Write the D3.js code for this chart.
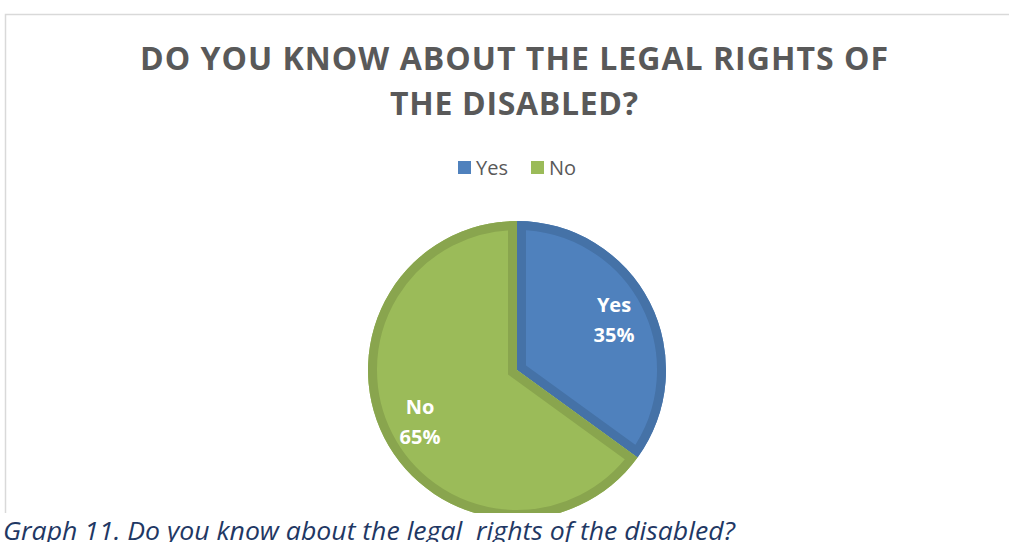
<!DOCTYPE html>
<html>
<head>
<meta charset="utf-8">
<script src="https://cdn.jsdelivr.net/npm/d3@7"></script>
<style>
  html, body { margin: 0; padding: 0; background: #fff; }
  svg { display: block; }
</style>
</head>
<body>
<svg id="chart" width="1009" height="542"></svg>
<script>
// Survey answers
const categories = ["Yes", "No"];
const shares = [35, 65];
const fills = ["#4F81BD", "#9BBB59"];
const edges = ["#4572A7", "#89A54E"];
const titleLines = ["DO YOU KNOW ABOUT THE LEGAL RIGHTS OF", "THE DISABLED?"];
const caption = "Graph 11. Do you know about the legal  rights of the disabled?";

const svg = d3.select("#chart");
const W = 1009, H = 542;
const plotBottom = 513;

// chart frame: top and left edges (right edge lies past the page)
svg.append("path")
  .attr("d", `M5.5,${plotBottom}V14.5H${W}`)
  .attr("fill", "none").attr("stroke", "#d9d9d9").attr("stroke-width", 1.5);

const defs = svg.append("defs");
defs.append("clipPath").attr("id", "frameClip")
  .append("rect").attr("x", 0).attr("y", 0).attr("width", W).attr("height", plotBottom);

// title
const titleWidths = [748, 248];
svg.append("g").selectAll("text").data(titleLines).join("text")
  .attr("x", 514).attr("y", (d, i) => 70 + i * 45)
  .attr("text-anchor", "middle")
  .attr("font-family", "'Open Sans', sans-serif")
  .attr("font-weight", 700).attr("font-size", 32)
  .attr("fill", "#595959")
  .attr("textLength", (d, i) => titleWidths[i])
  .attr("lengthAdjust", "spacing")
  .text(d => d);

// legend
const legend = svg.append("g").attr("font-family", "'Open Sans', sans-serif")
  .attr("font-size", 20).attr("fill", "#595959");
const legendX = [458, 531];
categories.forEach((c, i) => {
  legend.append("rect").attr("x", legendX[i]).attr("y", 161)
    .attr("width", 13).attr("height", 13).attr("fill", fills[i]);
  legend.append("text").attr("x", legendX[i] + 18).attr("y", 175).text(c);
});

// pie
const cx = 517, cy = 370, R = 149, band = 9;
const pie = d3.pie().sort(null).value(d => d.v);
const arcs = pie(categories.map((c, i) => ({ c, v: shares[i], i })));
const arc = d3.arc().innerRadius(0).outerRadius(R);

const plot = svg.append("g").attr("clip-path", "url(#frameClip)")
  .append("g").attr("transform", `translate(${cx},${cy})`);

arcs.forEach((a, k) => {
  const id = "slice" + k;
  defs.append("clipPath").attr("id", id)
    .append("path").attr("d", arc(a)).attr("transform", `translate(${cx},${cy})`);
  const g = plot.append("g");
  g.append("path").attr("d", arc(a)).attr("fill", fills[a.data.i]);
  // darker inner rim
  g.append("g").attr("clip-path", `url(#${id})`).attr("transform", `translate(${-cx},${-cy})`)
    .append("path").attr("d", arc(a)).attr("transform", `translate(${cx},${cy})`)
    .attr("fill", "none").attr("stroke", edges[a.data.i])
    .attr("stroke-width", band * 2).attr("stroke-linejoin", "miter");
});

// data labels
const labelPos = [[614, 312], [420, 414]];
const labels = svg.append("g").attr("font-family", "'Open Sans', sans-serif")
  .attr("font-weight", 700).attr("font-size", 20).attr("fill", "#fff")
  .attr("text-anchor", "middle");
arcs.forEach((a, k) => {
  const [lx, ly] = labelPos[k];
  labels.append("text").attr("x", lx).attr("y", ly).text(a.data.c);
  labels.append("text").attr("x", lx).attr("y", ly + 30).text(a.data.v + "%");
});

// caption
svg.append("text")
  .attr("x", 3).attr("y", 540)
  .attr("font-family", "'Open Sans', sans-serif")
  .attr("font-style", "italic").attr("font-size", 25)
  .attr("fill", "#1F3864")
  .attr("textLength", 732).attr("lengthAdjust", "spacingAndGlyphs")
  .style("white-space", "pre")
  .text(caption);
</script>
</body>
</html>
